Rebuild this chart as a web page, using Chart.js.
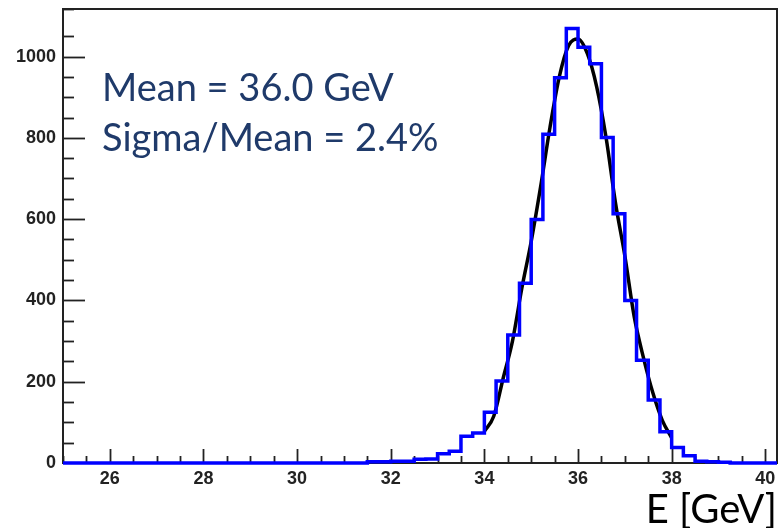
<!DOCTYPE html>
<html>
<head>
<meta charset="utf-8">
<script src="https://cdn.jsdelivr.net/npm/chart.js@4.4.1/dist/chart.umd.min.js"></script>
<style>
  html, body { margin: 0; padding: 0; background: #fff; }
  #wrap { width: 779px; height: 528px; position: relative; }
</style>
</head>
<body>
<div id="wrap"><canvas id="histo"></canvas></div>
<script>
// histogram binning (GeV)
const binLow = 25;
const binWidth = 0.25;
// counts per bin, 25.00 .. 40.25
const counts = [
  0, 0, 0, 0, 0, 0, 0, 0, 0, 0, 0, 0, 0,
  0, 0, 0, 0, 0, 0, 0, 0, 0, 0, 0, 0, 0,
  3, 3, 4, 4, 9, 10, 23, 29, 66, 74,
  125, 202, 315, 442, 599, 809, 948, 1069,
  1023, 982, 801, 613, 400, 253, 155, 77,
  38, 18, 4, 3, 2, 0, 0, 0, 0
];

// gaussian fit curve
const fitE = [34.0, 34.2, 34.4, 34.6, 34.8, 35.0, 35.2, 35.4, 35.6, 35.8, 36.0,
              36.2, 36.4, 36.6, 36.8, 37.0, 37.2, 37.4, 37.6, 37.8, 38.0];
const fitCounts = [78, 115, 208, 300, 430, 545, 679, 825, 950, 1027, 1043,
                   1007, 925, 800, 640, 510, 360, 258, 172, 105, 62];

const xTickLabels = [26, 28, 30, 32, 34, 36, 38, 40];
const yTickLabels = [0, 200, 400, 600, 800, 1000];

const histPoints = counts.map((c, i) => ({ x: binLow + i * binWidth, y: c }));
histPoints.push({ x: binLow + counts.length * binWidth, y: 0 });
const fitPoints = fitE.map((e, i) => ({ x: e, y: fitCounts[i] }));

const labelFont = { family: 'Liberation Sans', size: 18, weight: 'bold' };

// ROOT style inward ticks + frame
const frameTicks = {
  id: 'frameTicks',
  beforeDatasetsDraw(chart) {
    const { ctx, chartArea: a, scales } = chart;
    ctx.save();
    ctx.strokeStyle = '#222';
    ctx.lineWidth = 2;
    ctx.strokeRect(a.left, a.top, a.right - a.left, a.bottom - a.top);
    ctx.lineWidth = 1.8;
    scales.x.ticks.forEach(t => {
      const px = Math.round(scales.x.getPixelForValue(t.value)) + 0.5;
      const len = t.value % 2 === 0 ? 14 : 7;
      ctx.beginPath();
      ctx.moveTo(px, a.bottom);
      ctx.lineTo(px, a.bottom - len);
      ctx.stroke();
    });
    scales.y.ticks.forEach(t => {
      if (t.value <= 0) return;
      const py = Math.round(scales.y.getPixelForValue(t.value)) + 0.5;
      const len = t.value % 200 === 0 ? 22 : 11;
      ctx.beginPath();
      ctx.moveTo(a.left, py);
      ctx.lineTo(a.left + len, py);
      ctx.stroke();
    });
    ctx.restore();
  }
};

const fitText = {
  id: 'fitText',
  afterDraw(chart) {
    const ctx = chart.ctx;
    ctx.save();
    ctx.fillStyle = '#1f3a6a';
    ctx.font = '38px Lato';
    ctx.textBaseline = 'alphabetic';
    ctx.fillText('Mean = 36.0 GeV', 102, 101);
    ctx.fillText('Sigma/Mean = 2.4%', 102, 151);
    ctx.restore();
  }
};

new Chart(document.getElementById('histo'), {
  type: 'line',
  data: {
    datasets: [
      {
        label: 'E',
        data: histPoints,
        stepped: 'before',
        borderColor: '#0000ff',
        borderWidth: 3.5,
        pointRadius: 0,
        fill: false,
        clip: 4
      },
      {
        label: 'fit',
        data: fitPoints,
        borderColor: '#000',
        borderWidth: 3.5,
        pointRadius: 0,
        cubicInterpolationMode: 'monotone',
        fill: false
      }
    ]
  },
  options: {
    responsive: true,
    maintainAspectRatio: false,
    animation: false,
    layout: { padding: { top: 9, right: 2, left: 0, bottom: 0 } },
    plugins: { legend: { display: false }, tooltip: { enabled: false } },
    scales: {
      x: {
        type: 'linear',
        min: 25,
        max: 40.25,
        afterFit(s) { s.height = 65; s.paddingLeft = 0; s.paddingRight = 0; },
        grid: { display: false, drawTicks: false },
        border: { display: false },
        ticks: {
          stepSize: 0.5,
          includeBounds: false,
          autoSkip: false,
          maxRotation: 0,
          padding: 5,
          color: '#222',
          font: labelFont,
          callback: v => xTickLabels.includes(v) ? String(v) : ''
        },
        title: {
          display: true,
          text: 'E [GeV]',
          align: 'end',
          color: '#000',
          font: { family: 'Lato', size: 40, lineHeight: 0.9 },
          padding: { top: 0, bottom: 0 }
        }
      },
      y: {
        min: 0,
        max: 1117,
        afterFit(s) { s.width = 63; s.paddingTop = 0; s.paddingBottom = 0; },
        grid: { display: false, drawTicks: false },
        border: { display: false },
        ticks: {
          stepSize: 50,
          autoSkip: false,
          padding: 7,
          color: '#222',
          font: labelFont,
          callback: v => yTickLabels.includes(v) ? String(v) : ''
        }
      }
    }
  },
  plugins: [frameTicks, fitText]
});
</script>
</body>
</html>
